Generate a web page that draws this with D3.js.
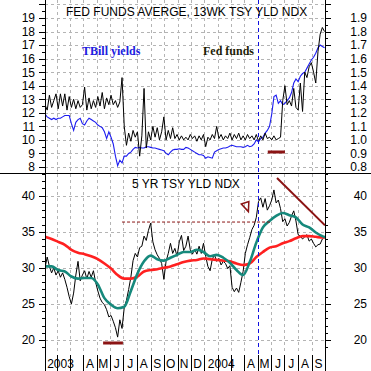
<!DOCTYPE html>
<html>
<head>
<meta charset="utf-8">
<script src="https://cdn.jsdelivr.net/npm/d3@7"></script>
<style>
  body { margin: 0; background: #fff; }
  text { font-family: "Liberation Sans", Arial, sans-serif; }
</style>
</head>
<body>
<div id="chart"></div>
<script>
// ---- data (top panel in basis points /10, i.e. 12.5 = 1.25%) ----
var startDate = new Date(2003, 0, 4);
var dailyStep = 5;     // days between samples of the raw series
var avgStep = 15;      // days between samples of the moving averages

var fedFunds = [12.6,12.2,13.3,12.4,12.9,13.4,12.3,13.4,12.5,13.4,
  12.2,13.2,12.4,13.0,12.3,12.9,12.4,12.6,13.9,12.2,
  13.1,12.3,12.9,12.4,13.2,12.5,13.5,12.3,13.1,12.6,
  13.3,12.6,12.9,12.4,12.8,14.6,11.0,9.6,10.5,9.9,
  10.7,10.2,10.6,8.8,10.3,13.8,9.4,10.6,10.0,11.0,
  10.2,10.9,10.0,10.6,11.7,10.0,10.7,10.1,10.9,10.1,
  10.4,10.0,10.3,10.0,
  10.2,10.0,10.4,10.1,10.3,9.9,10.3,10.0,10.4,9.5,
  10.2,10.0,10.4,10.1,11.0,10.1,10.4,10.0,10.3,10.1,
  10.5,10.0,10.4,10.1,10.5,10.0,10.3,10.0,10.4,10.1,
  10.3,10.0,10.4,9.9,10.3,10.0,10.5,10.1,10.2,10.0,
  10.3,10.0,10.1,10.2,12.9,14.0,12.6,12.9,12.5,13.8,
  12.4,12.2,14.2,12.1,15.0,14.6,15.4,15.7,15.0,14.2,
  16.5,17.8,18.3,18.0];

var tbillYield = [11.9,11.7,11.6,11.5,11.6,11.5,11.6,11.6,11.7,11.8,
  11.8,11.8,11.2,10.7,11.3,11.5,11.6,11.2,11.1,11.4,
  11.6,11.5,11.4,11.3,11.1,11.0,10.9,10.6,10.1,10.6,
  10.2,9.7,8.8,8.1,8.5,8.3,8.8,8.8,9.0,9.1,
  9.3,9.45,9.4,9.45,9.4,9.4,9.5,9.5,9.45,9.4,
  9.4,9.35,9.3,9.25,9.2,9.0,8.9,9.1,9.25,9.3,
  9.3,9.35,9.3,9.3,
  9.45,9.4,9.3,9.2,9.1,9.0,8.9,8.9,8.85,8.65,
  8.75,8.7,8.65,9.1,9.2,9.3,9.35,9.4,9.4,9.45,
  9.55,9.6,9.55,9.5,9.5,9.5,9.45,9.5,9.6,9.5,
  9.55,9.7,10.0,9.85,10.1,10.2,10.5,10.7,11.0,11.9,
  13.2,13.3,12.7,12.9,12.6,12.7,12.9,13.1,13.5,14.2,
  14.5,14.3,14.7,14.9,15.0,15.3,15.6,15.9,16.1,16.4,
  16.8,17.0,16.9,16.8];

var fiveYrYield = [30.0,31.5,30.2,29.3,30.0,29.0,29.6,28.7,29.3,28.4,
  27.3,26.0,25.0,26.5,29.0,30.9,28.2,29.0,29.6,28.5,
  29.5,28.7,29.6,28.0,26.8,25.8,25.2,24.9,24.2,23.2,
  23.4,22.6,21.7,20.4,22.8,21.6,24.5,25.5,27.0,28.7,
  31.0,32.0,31.5,32.8,33.0,34.4,33.8,35.2,36.2,33.6,
  32.5,31.8,31.3,30.6,28.4,30.9,32.0,33.4,32.0,32.7,
  31.6,33.6,34.5,32.4,
  33.0,34.4,32.5,31.9,32.6,31.9,33.0,32.0,33.4,31.6,
  30.2,29.6,31.2,31.8,30.9,31.3,30.4,30.9,30.6,29.9,
  30.3,27.3,26.7,27.2,26.6,28.0,29.5,32.0,33.2,34.2,
  35.3,35.9,37.0,39.2,39.7,38.4,39.6,38.0,38.6,39.4,
  40.8,39.0,39.4,38.2,36.4,36.8,35.8,36.3,37.2,37.9,
  36.5,34.6,34.4,34.0,34.3,34.6,33.7,34.0,33.4,32.9,
  33.2,33.3,34.0,34.3];

var fiveYrShortAvg = [30.2,30.2,29.7,29.5,28.8,28.5,28.6,28.6,27.7,25.8,
  24.9,24.4,24.6,26.8,29.2,30.9,31.7,31.2,31.0,31.4,
  31.8,32.2,32.2,32.5,32.2,31.6,31.8,31.4,30.7,29.7,
  29.0,30.8,33.5,35.6,36.5,37.2,37.6,37.3,37.0,36.0,
  35.6,34.9,34.4,34.1];

var fiveYrLongAvg = [34.3,34.0,33.6,33.2,32.5,32.1,31.9,31.6,31.2,30.6,
  29.9,29.0,28.5,28.5,28.8,29.5,29.7,29.8,30.0,30.2,
  30.5,30.8,31.0,31.1,31.3,31.2,31.1,31.0,30.9,30.6,
  30.4,30.6,31.5,32.2,32.8,33.0,33.4,33.7,34.1,34.4,
  34.4,34.3,34.2,34.2];

var topTicks = [8,9,10,11,12,13,14,15,16,17,18,19];
var bottomTicks = [20,25,30,35,40];
var monthLetters = ["J","F","M","A","M","J","J","A","S","O","N","D"];

// annotations, in data units
var markDate = new Date(2004, 4, 1);
var fedBar = {from: new Date(2004, 4, 24), to: new Date(2004, 6, 2), value: 9.1};
var lowBar = {from: new Date(2003, 4, 16), to: new Date(2003, 5, 30), value: 19.6};
var highLine = {from: new Date(2003, 5, 28), to: new Date(2004, 4, 29), value: 36.35};
var trendLine = [[new Date(2004, 5, 14), 42.45], [new Date(2004, 9, 1), 35.9]];
var triangle = [[new Date(2004, 2, 25), 38.85], [new Date(2004, 3, 11), 39.2], [new Date(2004, 3, 10), 37.8]];

// ---- layout ----
var W = 371, H = 371;
var left = 45, right = 325;
var split = 173.5, bottom = 354, labelTop = 355;
var darkRed = "#8b1414";

var svg = d3.select("#chart").append("svg")
    .attr("width", W).attr("height", H);

var x = d3.scaleTime()
    .domain([startDate, new Date(2004, 9, 1)])
    .range([left, right]);
var yTop = d3.scaleLinear().domain([8, 19]).range([167, 18]);
var yBot = d3.scaleLinear().domain([20, 40]).range([340, 195.7]);

function datesFor(n, step) {
    return d3.range(n).map(function (i) { return d3.timeDay.offset(startDate, i * step); });
}
var dailyDates = datesFor(fedFunds.length, dailyStep);
var avgDates = datesFor(fiveYrShortAvg.length, avgStep);

var defs = svg.append("defs");
defs.append("clipPath").attr("id", "clipTop").append("rect")
    .attr("x", left).attr("y", 0).attr("width", right - left).attr("height", split);
defs.append("clipPath").attr("id", "clipBot").append("rect")
    .attr("x", left).attr("y", split).attr("width", right - left).attr("height", bottom - split);

// ---- grid ----
var grid = svg.append("g")
    .attr("stroke", "#b4b4b4").attr("stroke-dasharray", "3,3")
    .attr("shape-rendering", "crispEdges");
var monthEdges = d3.timeMonth.range(new Date(2003, 1, 1), new Date(2004, 9, 1));
grid.selectAll("line.v")
    .data(monthEdges.filter(function (d) { return +d != +markDate; }))
    .enter().append("line")
    .attr("x1", function (d) { return Math.round(x(d)) + 0.5; })
    .attr("x2", function (d) { return Math.round(x(d)) + 0.5; })
    .attr("y1", 0).attr("y2", bottom);
grid.selectAll("line.ht")
    .data(topTicks.concat([20]))
    .enter().append("line")
    .attr("x1", left).attr("x2", right)
    .attr("y1", function (d) { return Math.round(yTop(d)) + 0.5; })
    .attr("y2", function (d) { return Math.round(yTop(d)) + 0.5; });
grid.selectAll("line.hb")
    .data(bottomTicks)
    .enter().append("line")
    .attr("x1", left).attr("x2", right)
    .attr("y1", function (d) { return Math.round(yBot(d)) + 0.5; })
    .attr("y2", function (d) { return Math.round(yBot(d)) + 0.5; });

// ---- top panel lines ----
var topG = svg.append("g").attr("clip-path", "url(#clipTop)");
var lineTop = d3.line()
    .x(function (d, i) { return x(dailyDates[i]); })
    .y(function (d) { return yTop(d); });
topG.append("path").datum(tbillYield)
    .attr("fill", "none").attr("stroke", "#1c1cf0").attr("stroke-width", 1.1)
    .attr("d", lineTop);
topG.append("path").datum(fedFunds)
    .attr("fill", "none").attr("stroke", "#000").attr("stroke-width", 1)
    .attr("d", lineTop);
topG.append("line")
    .attr("x1", x(fedBar.from)).attr("x2", x(fedBar.to))
    .attr("y1", yTop(fedBar.value)).attr("y2", yTop(fedBar.value))
    .attr("stroke", darkRed).attr("stroke-width", 3);

// ---- bottom panel lines ----
var botG = svg.append("g").attr("clip-path", "url(#clipBot)");
var lineBotDaily = d3.line()
    .x(function (d, i) { return x(dailyDates[i]); })
    .y(function (d) { return yBot(d); });
var lineBotAvg = d3.line()
    .x(function (d, i) { return x(avgDates[i]); })
    .y(function (d) { return yBot(d); })
    .curve(d3.curveMonotoneX);
botG.append("path").datum(fiveYrYield)
    .attr("fill", "none").attr("stroke", "#000").attr("stroke-width", 1)
    .attr("d", lineBotDaily);
botG.append("path").datum(fiveYrLongAvg)
    .attr("fill", "none").attr("stroke", "#ff2020").attr("stroke-width", 2.6)
    .attr("d", lineBotAvg);
botG.append("path").datum(fiveYrShortAvg)
    .attr("fill", "none").attr("stroke", "#16897c").attr("stroke-width", 2.6)
    .attr("d", lineBotAvg);

// annotations
botG.append("line")
    .attr("x1", x(lowBar.from)).attr("x2", x(lowBar.to))
    .attr("y1", yBot(lowBar.value)).attr("y2", yBot(lowBar.value))
    .attr("stroke", darkRed).attr("stroke-width", 3);
botG.append("line")
    .attr("x1", x(highLine.from)).attr("x2", x(highLine.to))
    .attr("y1", yBot(highLine.value)).attr("y2", yBot(highLine.value))
    .attr("stroke", darkRed).attr("stroke-width", 1).attr("stroke-dasharray", "3,2");
botG.append("line")
    .attr("x1", x(trendLine[0][0])).attr("y1", yBot(trendLine[0][1]))
    .attr("x2", x(trendLine[1][0])).attr("y2", yBot(trendLine[1][1]))
    .attr("stroke", darkRed).attr("stroke-width", 2);
botG.append("polygon")
    .attr("points", triangle.map(function (p) { return x(p[0]) + "," + yBot(p[1]); }).join(" "))
    .attr("fill", "none").attr("stroke", darkRed).attr("stroke-width", 1.5);

// blue marker line through both panels
svg.append("line")
    .attr("x1", Math.round(x(markDate)) + 0.5).attr("x2", Math.round(x(markDate)) + 0.5)
    .attr("y1", 0).attr("y2", bottom)
    .attr("stroke", "#1010e0").attr("stroke-width", 1).attr("stroke-dasharray", "4,3");

// ---- axes ----
function styleAxis(g, anchorEnd, dx) {
    g.select(".domain").remove();
    g.selectAll("line").attr("stroke", "#000").attr("shape-rendering", "crispEdges");
    g.selectAll("text")
        .attr("font-family", "Liberation Sans, Arial, sans-serif")
        .attr("font-size", 12).attr("fill", "#000");
    if (anchorEnd) g.selectAll("text").attr("text-anchor", "end").attr("x", dx);
}
function addAxes(scale, major, minor, fmtLeft, fmtRight) {
    svg.append("g").attr("transform", "translate(" + left + ",0)")
        .call(d3.axisLeft(scale).tickValues(minor).tickSize(3).tickFormat(""))
        .call(styleAxis);
    svg.append("g").attr("transform", "translate(" + left + ",0)")
        .call(d3.axisLeft(scale).tickValues(major).tickSize(6).tickFormat(fmtLeft))
        .call(function (g) { styleAxis(g, true, -10); });
    svg.append("g").attr("transform", "translate(" + right + ",0)")
        .call(d3.axisRight(scale).tickValues(minor).tickSize(3).tickFormat(""))
        .call(styleAxis);
    svg.append("g").attr("transform", "translate(" + right + ",0)")
        .call(d3.axisRight(scale).tickValues(major).tickSize(6).tickFormat(fmtRight))
        .call(function (g) { styleAxis(g, true, 42); });
}
addAxes(yTop, topTicks.concat([20]), d3.range(7.5, 20.5, 0.5).filter(function (v) { return yTop(v) > 0 && yTop(v) < split; }),
    function (d) { return d <= 19 ? d : ""; },
    function (d) { return d <= 19 ? (d / 10).toFixed(1) : ""; });
addAxes(yBot, bottomTicks, d3.range(19, 44, 1).filter(function (v) { return yBot(v) > split && yBot(v) < bottom + 1; }),
    function (d) { return d; }, function (d) { return d; });

// frame lines
var frame = svg.append("g").attr("stroke", "#000").attr("shape-rendering", "crispEdges");
frame.append("line").attr("x1", left + 0.5).attr("x2", left + 0.5).attr("y1", 0).attr("y2", H);
frame.append("line").attr("x1", right + 0.5).attr("x2", right + 0.5).attr("y1", 0).attr("y2", H);
frame.append("line").attr("x1", 0).attr("x2", W).attr("y1", split).attr("y2", split);

// ---- month labels ----
var months = d3.timeMonth.range(new Date(2003, 0, 1), new Date(2004, 9, 1));
frame.selectAll("line.sep")
    .data(monthEdges)
    .enter().append("line")
    .attr("x1", function (d) { return Math.round(x(d)) + 0.5; })
    .attr("x2", function (d) { return Math.round(x(d)) + 0.5; })
    .attr("y1", labelTop).attr("y2", H);
svg.selectAll("text.month")
    .data(months.filter(function (d) { return d.getMonth() != 1 && d.getMonth() != 2; }))
    .enter().append("text")
    .attr("class", "month")
    .attr("font-size", 12)
    .attr("y", 368)
    .attr("text-anchor", function (d) { return d.getMonth() == 0 ? "start" : "middle"; })
    .attr("x", function (d) {
        if (d.getMonth() == 0) return x(d) + 3.5;
        return (x(d) + x(d3.timeMonth.offset(d, 1))) / 2;
    })
    .text(function (d) { return d.getMonth() == 0 ? d.getFullYear() : monthLetters[d.getMonth()]; });

// ---- titles ----
svg.append("text").attr("x", 66).attr("y", 16).attr("font-size", 12)
    .text("FED FUNDS AVERGE, 13WK TSY YLD NDX");
svg.append("text").attr("x", 132).attr("y", 188).attr("font-size", 12)
    .text("5 YR TSY YLD NDX");
svg.append("text").attr("x", 82).attr("y", 55)
    .style("font-family", "Liberation Serif, Times New Roman, serif")
    .attr("font-size", 12).attr("font-weight", "bold").attr("fill", "#2020e0")
    .text("TBill yields");
svg.append("text").attr("x", 203).attr("y", 55)
    .style("font-family", "Liberation Serif, Times New Roman, serif")
    .attr("font-size", 12).attr("font-weight", "bold").attr("fill", "#1e1e08")
    .text("Fed funds");
</script>
</body>
</html>
